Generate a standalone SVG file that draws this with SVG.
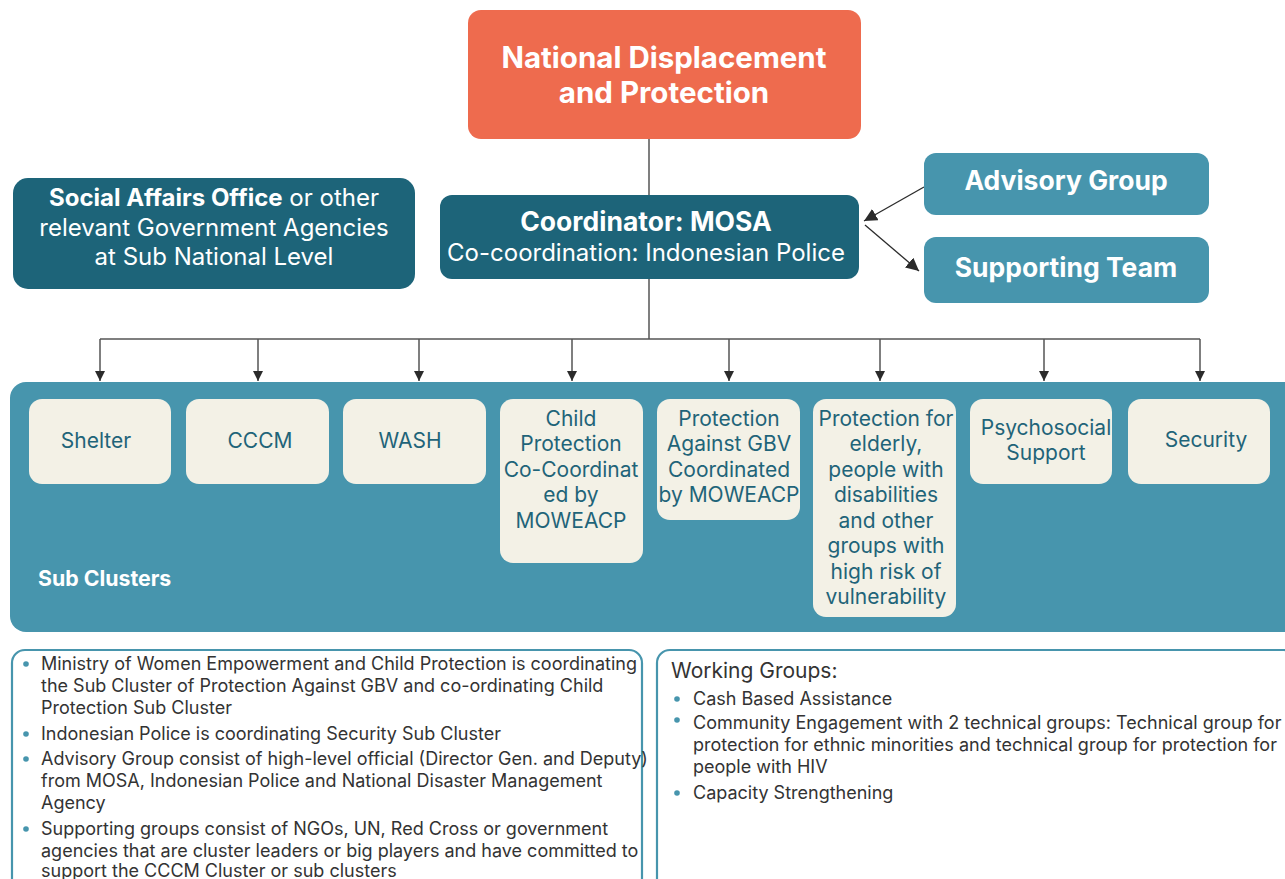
<svg xmlns="http://www.w3.org/2000/svg" width="1285" height="879" viewBox="0 0 1285 879">
<defs>
<marker id="arr" viewBox="0 0 10 10" refX="10" refY="5" markerWidth="10" markerHeight="10" markerUnits="userSpaceOnUse" orient="auto">
<path d="M0,0 L10,5 L0,10 z" fill="#2b2b2b"/>
</marker>
<marker id="arrL" viewBox="0 0 12 12" refX="12" refY="6" markerWidth="13" markerHeight="13" markerUnits="userSpaceOnUse" orient="auto">
<path d="M0,0 L12,6 L0,12 z" fill="#2b2b2b"/>
</marker>
<style>
.t{font-family:Inter,Roboto,"Liberation Sans",sans-serif}
.w{fill:#ffffff}
.b{font-weight:bold}
.sc{fill:#F3F1E6}
.sct{font-family:Inter,Roboto,"Liberation Sans",sans-serif;font-size:21px;fill:#1F6479;text-anchor:middle}
.note{font-family:Inter,Roboto,"Liberation Sans",sans-serif;font-size:18px;fill:#333333}
.hdr{font-family:Inter,Roboto,"Liberation Sans",sans-serif;font-size:21px;fill:#333333}
.dot{fill:#4795AD}
.ln{stroke:#555555;stroke-width:1.5;fill:none}
</style>
</defs>

<g id="connectors">
<path class="ln" d="M649,139 V195 M649,279 V339 M100,339 H1200"/>
<line class="ln" x1="100" y1="339" x2="100" y2="381" marker-end="url(#arr)"/>
<line class="ln" x1="258" y1="339" x2="258" y2="381" marker-end="url(#arr)"/>
<line class="ln" x1="419" y1="339" x2="419" y2="381" marker-end="url(#arr)"/>
<line class="ln" x1="572" y1="339" x2="572" y2="381" marker-end="url(#arr)"/>
<line class="ln" x1="729" y1="339" x2="729" y2="381" marker-end="url(#arr)"/>
<line class="ln" x1="880" y1="339" x2="880" y2="381" marker-end="url(#arr)"/>
<line class="ln" x1="1044" y1="339" x2="1044" y2="381" marker-end="url(#arr)"/>
<line class="ln" x1="1200" y1="339" x2="1200" y2="381" marker-end="url(#arr)"/>
<line x1="924" y1="187" x2="864" y2="221" stroke="#2b2b2b" stroke-width="1.3" marker-end="url(#arrL)"/>
<line x1="865" y1="225" x2="919" y2="271" stroke="#2b2b2b" stroke-width="1.3" marker-end="url(#arrL)"/>
</g>

<g id="national">
<rect x="468" y="10" width="393" height="129" rx="13" fill="#EE6B4E"/>
<text class="t w b" x="664" y="68" font-size="29.5" text-anchor="middle">National Displacement</text>
<text class="t w b" x="664" y="103" font-size="29.5" text-anchor="middle">and Protection</text>
</g>

<g id="social">
<rect x="13" y="178" width="402" height="111" rx="15" fill="#1D6479"/>
<text class="t w" x="214" y="206" font-size="24" text-anchor="middle"><tspan font-weight="bold">Social Affairs Office</tspan> or other</text>
<text class="t w" x="214" y="236" font-size="24" text-anchor="middle">relevant Government Agencies</text>
<text class="t w" x="214" y="265" font-size="24" text-anchor="middle">at Sub National Level</text>
</g>

<g id="coordinator">
<rect x="440" y="195" width="419" height="84" rx="12" fill="#1D6479"/>
<text class="t w b" x="646" y="231" font-size="26.5" text-anchor="middle">Coordinator: MOSA</text>
<text class="t w" x="646" y="261" font-size="24" text-anchor="middle">Co-coordination: Indonesian Police</text>
</g>

<g id="advisory">
<rect x="924" y="153" width="285" height="62" rx="12" fill="#4795AD"/>
<text class="t w b" x="1066" y="190" font-size="26.5" text-anchor="middle">Advisory Group</text>
</g>

<g id="supporting">
<rect x="924" y="237" width="285" height="66" rx="12" fill="#4795AD"/>
<text class="t w b" x="1066" y="277" font-size="26.5" text-anchor="middle">Supporting Team</text>
</g>

<g id="subclusters">
<rect x="10" y="382" width="1290" height="250" rx="16" fill="#4795AD"/>
<text class="t w b" x="38" y="586" font-size="21.3">Sub Clusters</text>
</g>

<g id="shelter">
<rect class="sc" x="29" y="399" width="142" height="85" rx="13"/>
<text class="sct" x="96" y="448">Shelter</text>
</g>
<g id="cccm">
<rect class="sc" x="186" y="399" width="143" height="85" rx="13"/>
<text class="sct" x="260" y="448">CCCM</text>
</g>
<g id="wash">
<rect class="sc" x="343" y="399" width="143" height="85" rx="13"/>
<text class="sct" x="410" y="448">WASH</text>
</g>
<g id="child">
<rect class="sc" x="500" y="399" width="143" height="164" rx="13"/>
<text class="sct" x="571" y="426">Child</text>
<text class="sct" x="571" y="451">Protection</text>
<text class="sct" x="571" y="477">Co-Coordinat</text>
<text class="sct" x="571" y="502">ed by</text>
<text class="sct" x="571" y="528">MOWEACP</text>
</g>
<g id="gbv">
<rect class="sc" x="657" y="399" width="143" height="121" rx="13"/>
<text class="sct" x="729" y="426">Protection</text>
<text class="sct" x="729" y="451">Against GBV</text>
<text class="sct" x="729" y="477">Coordinated</text>
<text class="sct" x="729" y="502">by MOWEACP</text>
</g>
<g id="elderly">
<rect class="sc" x="813" y="399" width="143" height="218" rx="13"/>
<text class="sct" x="886" y="426">Protection for</text>
<text class="sct" x="886" y="451">elderly,</text>
<text class="sct" x="886" y="477">people with</text>
<text class="sct" x="886" y="502">disabilities</text>
<text class="sct" x="886" y="528">and other</text>
<text class="sct" x="886" y="553">groups with</text>
<text class="sct" x="886" y="579">high risk of</text>
<text class="sct" x="886" y="604">vulnerability</text>
</g>
<g id="psychosocial">
<rect class="sc" x="970" y="399" width="142" height="85" rx="13"/>
<text class="sct" x="1046" y="435">Psychosocial</text>
<text class="sct" x="1046" y="460">Support</text>
</g>
<g id="security">
<rect class="sc" x="1128" y="399" width="142" height="85" rx="13"/>
<text class="sct" x="1206" y="447">Security</text>
</g>

<g id="notes">
<rect x="12" y="650" width="630" height="260" rx="13" fill="#ffffff" stroke="#4795AD" stroke-width="2.2"/>
<circle class="dot" cx="26" cy="664" r="2.8"/>
<circle class="dot" cx="26" cy="734" r="2.8"/>
<circle class="dot" cx="26" cy="759" r="2.8"/>
<circle class="dot" cx="26" cy="829" r="2.8"/>
<text class="note" x="41" y="670">Ministry of Women Empowerment and Child Protection is coordinating</text>
<text class="note" x="41" y="692">the Sub Cluster of Protection Against GBV and co-ordinating Child</text>
<text class="note" x="41" y="714">Protection Sub Cluster</text>
<text class="note" x="41" y="740">Indonesian Police is coordinating Security Sub Cluster</text>
<text class="note" x="41" y="765">Advisory Group consist of high-level official (Director Gen. and Deputy)</text>
<text class="note" x="41" y="787">from MOSA, Indonesian Police and National Disaster Management</text>
<text class="note" x="41" y="809">Agency</text>
<text class="note" x="41" y="835">Supporting groups consist of NGOs, UN, Red Cross or government</text>
<text class="note" x="41" y="857">agencies that are cluster leaders or big players and have committed to</text>
<text class="note" x="41" y="877">support the CCCM Cluster or sub clusters</text>
</g>

<g id="working">
<rect x="657" y="650" width="640" height="260" rx="13" fill="#ffffff" stroke="#4795AD" stroke-width="2.2"/>
<text class="hdr" x="671" y="678">Working Groups:</text>
<circle class="dot" cx="677" cy="699" r="2.8"/>
<circle class="dot" cx="677" cy="720" r="2.8"/>
<circle class="dot" cx="677" cy="793" r="2.8"/>
<text class="note" x="693" y="705">Cash Based Assistance</text>
<text class="note" x="693" y="729">Community Engagement with 2 technical groups: Technical group for</text>
<text class="note" x="693" y="751">protection for ethnic minorities and technical group for protection for</text>
<text class="note" x="693" y="773">people with HIV</text>
<text class="note" x="693" y="799">Capacity Strengthening</text>
</g>
</svg>
